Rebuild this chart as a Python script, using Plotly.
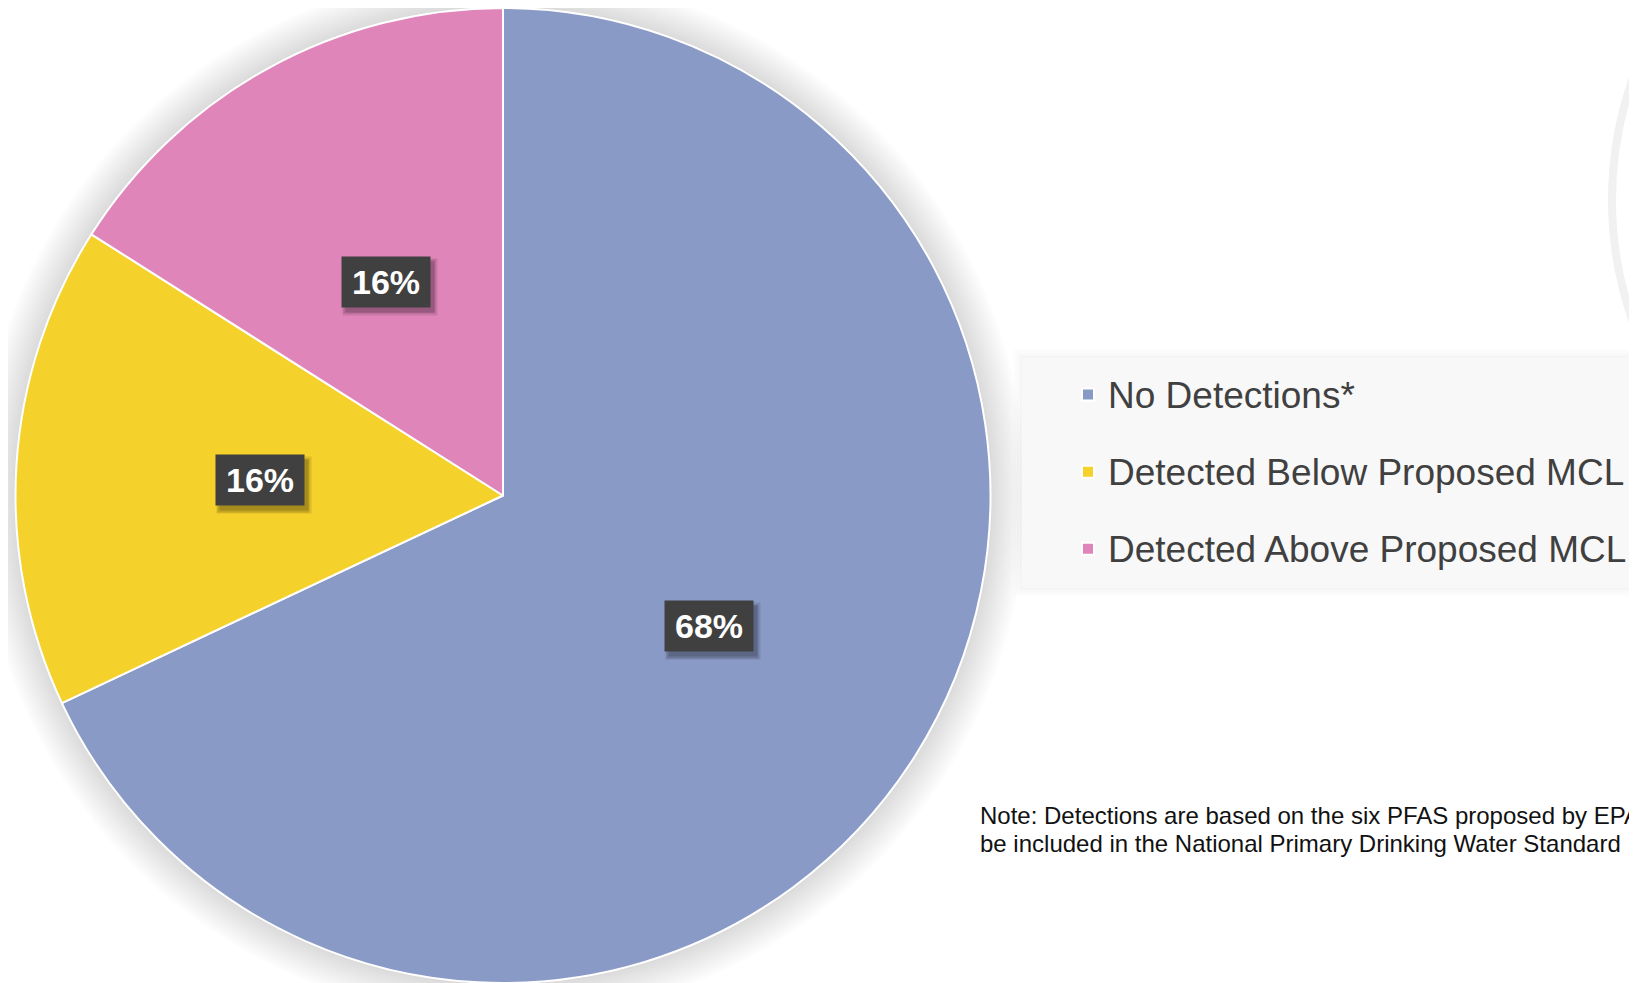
import math
import plotly.graph_objects as go

categories = ["No Detections*", "Detected Below Proposed MCL", "Detected Above Proposed MCL"]
values = [68, 16, 16]
colors = ["#8A9AC6", "#F5D12C", "#E085BA"]
note_lines = ["Note: Detections are based on the six PFAS proposed by EPA to",
              "be included in the National Primary Drinking Water Standard"]

# page body has an 8px margin; figure is sized to fill the rest of the window
OFF = 8
W, H = 1637 - OFF, 983 - OFF
FONT = "Arial, Liberation Sans, sans-serif"


def px(x):  # window x pixel -> paper
    return (x - OFF) / W


def py(y):  # window y pixel -> paper
    return 1 - (y - OFF) / H


# pie domain (window pixels)
x0p, x1p = 15, 991
y0p, y1p = OFF, 983
cx = (x0p + x1p) / 2
cy = (y0p + y1p) / 2
R = min(x1p - x0p, y1p - y0p) / 2

legend_labels = [
    f"<span style='font-size:37px;baseline-shift:9px'>{c}</span>" for c in categories
]

fig = go.Figure()
fig.add_trace(go.Pie(
    labels=legend_labels,
    values=values,
    sort=False,
    direction="clockwise",
    rotation=0,
    textinfo="none",
    hoverinfo="label+percent",
    marker=dict(colors=colors, line=dict(color="white", width=2)),
    domain=dict(x=[px(x0p), px(x1p)], y=[py(y1p), py(y0p)]),
))

shapes = []
# soft shadow around pie
for g in range(36, 0, -3):
    shapes.append(dict(type="circle", xref="paper", yref="paper", layer="below",
                       x0=px(cx - R - g), x1=px(cx + R + g),
                       y0=py(cy + R + g), y1=py(cy - R - g),
                       fillcolor="rgba(0,0,0,0.011)", line=dict(width=0)))
# legend background (with faint shadow)
for g, op in [(8, 0.010), (5, 0.012), (2, 0.016)]:
    shapes.append(dict(type="rect", xref="paper", yref="paper", layer="below",
                       x0=px(1022 - g), x1=1.0, y0=py(588 + g), y1=py(358 - g),
                       fillcolor=f"rgba(0,0,0,{op})", line=dict(width=0)))
shapes.append(dict(type="rect", xref="paper", yref="paper", layer="below",
                   x0=px(1022), x1=1.0, y0=py(588), y1=py(358),
                   fillcolor="#F8F8F8", line=dict(width=0)))
# faint ring at right edge
RR = 366
shapes.append(dict(type="circle", xref="paper", yref="paper", layer="below",
                   x0=px(1978 - RR), x1=px(1978 + RR),
                   y0=py(200 + RR), y1=py(200 - RR),
                   fillcolor="rgba(0,0,0,0)", line=dict(color="#F1F1F1", width=8)))

annotations = []
total = sum(values)
cum = 0
for v in values:
    mid = (cum + v / 2) / total * 2 * math.pi
    cum += v
    lx = cx + 0.5 * R * math.sin(mid)
    ly = cy - 0.5 * R * math.cos(mid)
    txt = f"{round(v / total * 100)}%"
    for g, op in [(3, 0.10), (1.5, 0.12), (0, 0.14)]:
        annotations.append(dict(x=px(lx + 4), y=py(ly + 5), xref="paper", yref="paper",
                                xanchor="center", yanchor="middle",
                                text=" ", showarrow=False, width=88 + 2 * g, height=50 + 2 * g,
                                bgcolor=f"rgba(0,0,0,{op})", borderpad=0))
    annotations.append(dict(x=px(lx), y=py(ly), xref="paper", yref="paper",
                            xanchor="center", yanchor="middle",
                            text=f"<b>{txt}</b>", showarrow=False, width=88, height=50,
                            bgcolor="#404040", borderpad=0,
                            font=dict(family=FONT, size=34, color="white")))

for line, yy in zip(note_lines, [815, 843]):
    annotations.append(dict(x=px(978), y=py(yy), xref="paper", yref="paper",
                            xanchor="left", yanchor="middle", align="left", showarrow=False,
                            text=line,
                            font=dict(family=FONT, size=24, color="#111111")))

fig.update_layout(
    width=W, height=H,
    margin=dict(l=0, r=0, t=0, b=0),
    paper_bgcolor="white",
    plot_bgcolor="white",
    shapes=shapes,
    annotations=annotations,
    showlegend=True,
    legend=dict(x=px(1068), y=py(472), xanchor="left", yanchor="middle",
                bgcolor="rgba(0,0,0,0)", font=dict(family=FONT, size=57, color="#404040"),
                itemclick=False),
)

fig.write_html("out.html")
